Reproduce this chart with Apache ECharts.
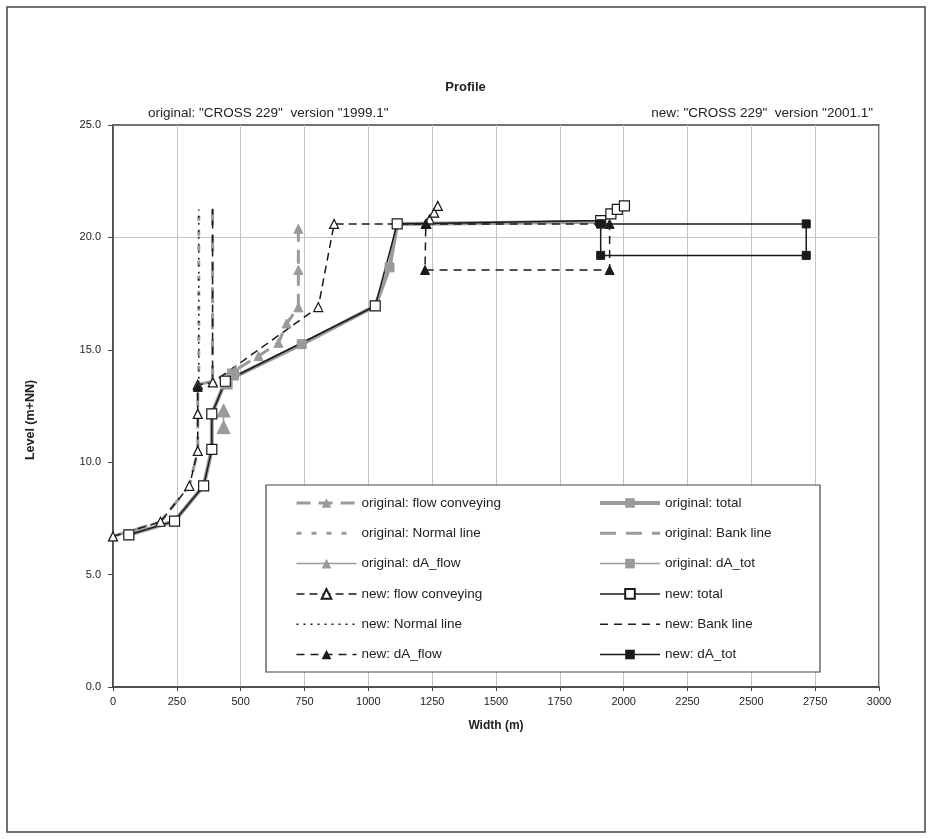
<!DOCTYPE html>
<html><head><meta charset="utf-8">
<script src="https://cdn.jsdelivr.net/npm/echarts@6/dist/echarts.min.js"></script>
<style>html,body{margin:0;padding:0;background:#fff}#c{width:931px;height:839px}</style>
</head><body><div id="c"></div>
<script>
// ---- data (x in m, y in m+NN); null = gap between segments ----
const xTicks = [0,250,500,750,1000,1250,1500,1750,2000,2250,2500,2750,3000];
const yTicks = [0,5,10,15,20,25];

const origFlowX = [0,186,299,332,332,332,391,480,570,648,680,726,726,726,null,1227,1240,1258,1272];
const origFlowY = [6.7,7.35,8.95,10.5,12.15,13.45,13.6,14.1,14.72,15.31,16.17,16.89,18.55,20.38,null,20.6,20.8,21.1,21.4];
const origNormalX = [336,336];
const origNormalY = [13.4,21.24];
const origDaFlowX = [433,433];
const origDaFlowY = [11.56,12.3];
const origTotalX = [62,241,355,387,387,440,739,1027,1083,1113,1910,1950,1975,2003];
const origTotalY = [6.77,7.38,8.95,10.57,12.15,13.6,15.25,16.95,18.67,20.6,20.7,21.05,21.25,21.4];
const origBankX = [390,390];
const origBankY = [13.6,21.27];
const origDaTotX = [445,470];
const origDaTotY = [13.5,13.9];

const newFlowX = [0,186,299,332,332,332,391,804,866,1227,1240,1258,1272];
const newFlowY = [6.7,7.35,8.95,10.5,12.15,13.45,13.55,16.9,20.6,20.6,20.8,21.1,21.4];
const newNormalX = [336,336];
const newNormalY = [13.4,21.24];
const newDaFlowX = [332,null,1225,1945,1945,1222,1225];
const newDaFlowY = [13.35,null,20.6,20.6,18.55,18.55,20.6];
const newTotalX = [62,241,355,387,387,440,1027,1113,1910,1950,1975,2003];
const newTotalY = [6.77,7.38,8.95,10.57,12.15,13.6,16.95,20.6,20.75,21.05,21.25,21.4];
const newBankX = [390,390];
const newBankY = [13.55,21.27];
const newDaTotX = [1910,2715,2715,1910,1910];
const newDaTotY = [20.6,20.6,19.2,19.2,20.6];

const legendLeft = ['original: flow conveying','original: Normal line','original: dA_flow','new: flow conveying','new: Normal line','new: dA_flow'];
const legendRight = ['original: total','original: Bank line','original: dA_tot','new: total','new: Bank line','new: dA_tot'];
const plainLines = ['original: Normal line','new: Normal line','original: Bank line','new: Bank line'];

function pts(xs, ys){ return xs.map((x,i)=> x===null ? ['-','-'] : [x, ys[i]]); }
function legendData(names){
  return names.map(n => plainLines.indexOf(n) >= 0 ? {name:n, itemStyle:{opacity:0}} : {name:n});
}

const GRAY='#9a9a9a', DARK='#1a1a1a';
const FONT='"Liberation Sans", Arial, sans-serif';
function S(name, xs, ys, o){
  return Object.assign({name:name, type:'line', data:pts(xs,ys), connectNulls:false, animation:false, silent:true}, o);
}
const series = [
  S('original: Bank line', origBankX, origBankY, {symbol:'circle', showSymbol:false, lineStyle:{color:GRAY,width:3,type:[16,10]}, itemStyle:{color:GRAY,opacity:0}}),
  S('original: Normal line', origNormalX, origNormalY, {symbol:'circle', showSymbol:false, lineStyle:{color:GRAY,width:3,type:[5,10]}, itemStyle:{color:GRAY,opacity:0}}),
  S('original: total', origTotalX, origTotalY, {symbol:'rect', symbolSize:9, lineStyle:{color:GRAY,width:4}, itemStyle:{color:GRAY,borderColor:GRAY}}),
  S('original: flow conveying', origFlowX, origFlowY, {symbol:'triangle', symbolSize:9, lineStyle:{color:GRAY,width:3,type:[14,8]}, itemStyle:{color:GRAY,borderColor:GRAY}}),
  S('original: dA_flow', origDaFlowX, origDaFlowY, {symbol:'triangle', symbolSize:13, lineStyle:{color:GRAY,width:1.5}, itemStyle:{color:GRAY,borderColor:GRAY}}),
  S('original: dA_tot', origDaTotX, origDaTotY, {symbol:'rect', symbolSize:11, lineStyle:{color:GRAY,width:1.5}, itemStyle:{color:GRAY,borderColor:GRAY}}),
  S('new: Normal line', newNormalX, newNormalY, {symbol:'circle', showSymbol:false, lineStyle:{color:DARK,width:1.5,type:[2,5]}, itemStyle:{color:DARK,opacity:0}}),
  S('new: Bank line', newBankX, newBankY, {symbol:'circle', showSymbol:false, lineStyle:{color:DARK,width:1.5,type:[8,6]}, itemStyle:{color:DARK,opacity:0}}),
  S('new: flow conveying', newFlowX, newFlowY, {symbol:'triangle', symbolSize:9, lineStyle:{color:DARK,width:1.5,type:[8,5]}, itemStyle:{color:'#fff',borderColor:DARK,borderWidth:1.2}}),
  S('new: total', newTotalX, newTotalY, {symbol:'rect', symbolSize:10, lineStyle:{color:DARK,width:1.5}, itemStyle:{color:'#fff',borderColor:DARK,borderWidth:1.2}}),
  S('new: dA_flow', newDaFlowX, newDaFlowY, {symbol:'triangle', symbolSize:9, lineStyle:{color:DARK,width:1.5,type:[8,6]}, itemStyle:{color:DARK,borderColor:DARK}}),
  S('new: dA_tot', newDaTotX, newDaTotY, {symbol:'rect', symbolSize:8, lineStyle:{color:DARK,width:1.5}, itemStyle:{color:DARK,borderColor:DARK}})
];

const legendCommon = {orient:'vertical', top:491, itemWidth:60, itemHeight:12, itemGap:16.3, selectedMode:false, z:10,
  lineStyle:{width:'inherit'},
  textStyle:{fontFamily:FONT, fontSize:13.5, color:'#222'}};

const chart = echarts.init(document.getElementById('c'), null, {renderer:'canvas'});
chart.setOption({
  backgroundColor:'#fff',
  animation:false,
  title:[
    {text:'Profile', left:'center', top:76, textStyle:{fontFamily:FONT, fontSize:13, fontWeight:'bold', color:'#222'}},
    {text:'original: "CROSS 229"  version "1999.1"', left:143, top:101, textStyle:{fontFamily:FONT, fontSize:13.5, fontWeight:'normal', color:'#222'}},
    {text:'new: "CROSS 229"  version "2001.1"', right:53, top:101, textStyle:{fontFamily:FONT, fontSize:13.5, fontWeight:'normal', color:'#222'}}
  ],
  grid:{left:113, right:52, top:125, bottom:152, show:true, borderColor:'#444', borderWidth:1.5, backgroundColor:'transparent'},
  xAxis:{type:'value', min:xTicks[0], max:xTicks[xTicks.length-1], interval:xTicks[1]-xTicks[0],
    name:'Width (m)', nameLocation:'middle', nameGap:33,
    nameTextStyle:{fontFamily:FONT, fontSize:12, fontWeight:'bold', color:'#222'},
    axisLine:{lineStyle:{color:'#444',width:1.5}}, axisTick:{length:4,lineStyle:{color:'#444'}},
    axisLabel:{fontFamily:FONT, fontSize:11, color:'#222', margin:9, formatter:v=>String(v)},
    splitLine:{show:true, lineStyle:{color:'#c4c4c4', width:1}}},
  yAxis:{type:'value', min:yTicks[0], max:yTicks[yTicks.length-1], interval:yTicks[1]-yTicks[0],
    name:'Level (m+NN)', nameLocation:'middle', nameGap:76,
    nameTextStyle:{fontFamily:FONT, fontSize:12.5, fontWeight:'bold', color:'#222', padding:[0,28,0,0]},
    axisLine:{lineStyle:{color:'#444',width:1.5}}, axisTick:{length:5,lineStyle:{color:'#444'}},
    axisLabel:{fontFamily:FONT, fontSize:11, color:'#222', margin:12, formatter:v=>v.toFixed(1)},
    splitLine:{show:true, lineStyle:{color:['transparent','transparent','transparent','transparent','#c4c4c4','transparent'], width:1}}},
  legend:[
    Object.assign({left:290, data:legendData(legendLeft)}, legendCommon),
    Object.assign({left:593, data:legendData(legendRight)}, legendCommon)
  ],
  graphic:[
    {type:'rect', shape:{x:7,y:7,width:918,height:825}, style:{fill:'none', stroke:'#444', lineWidth:1.5}, silent:true, z:-10},
    {type:'rect', shape:{x:266,y:485,width:554,height:187}, style:{fill:'#fff', stroke:'#444', lineWidth:1.2}, silent:true, z:3}
  ],
  series: series
});
</script></body></html>
